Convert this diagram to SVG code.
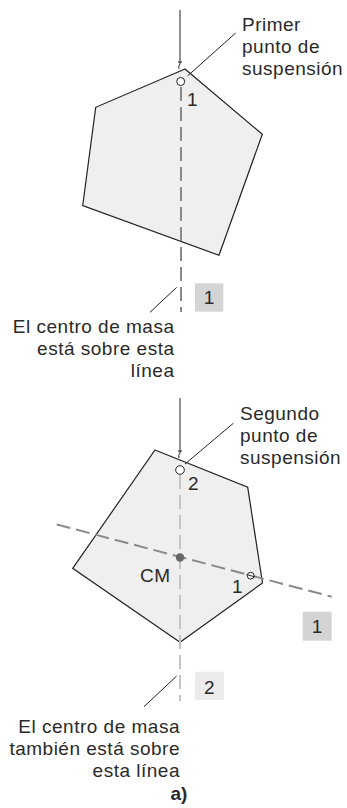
<svg xmlns="http://www.w3.org/2000/svg" width="347" height="808" viewBox="0 0 347 808">
<style>
.t{font-family:"Liberation Sans",Arial,sans-serif;font-size:19px;fill:#2a2a2a;letter-spacing:0.5px}
.r{text-anchor:end}
.c{text-anchor:middle}
.b{font-weight:bold;letter-spacing:0}
.poly{fill:#efefef;stroke:#222;stroke-width:1.2}
.str{stroke:#222;stroke-width:1;fill:none}
.lead{stroke:#222;stroke-width:1;fill:none}
.d1{stroke:#8a8a8a;stroke-width:2;stroke-dasharray:14 6;fill:none}
.d2{stroke:#c4c4c4;stroke-width:2;stroke-dasharray:14 6;fill:none}
.hole{fill:#fff;stroke:#222;stroke-width:1}
</style>
<rect width="347" height="808" fill="#fff"/>
<g id="body1">
<polygon class="poly" points="185,69 95.7,107.3 82.7,205.5 219,255.3 262.3,134.3"/>
</g>
<g id="body2">
<polygon class="poly" points="155,450 247.7,487.3 262.5,583 180,642.3 72.7,568.3"/>
</g>
<g id="connectors">
<line class="d1" x1="181" y1="87" x2="181" y2="312"/>
<line class="d2" x1="180" y1="475" x2="180" y2="701"/>
<line class="d1" x1="56.7" y1="524.5" x2="331.7" y2="596.7"/>
<path class="str" d="M180,10 V64 M178,62 H182 M180,64 q-2,2 -1,5"/>
<path class="str" d="M180,398 V453 M178,451 H182 M180,453 q-2,2 -1,5"/>
<line class="lead" x1="187.5" y1="76" x2="235.7" y2="33"/>
<line class="lead" x1="185" y1="464" x2="233.3" y2="423.3"/>
<line class="lead" x1="176.7" y1="287.3" x2="150" y2="312.3"/>
<line class="lead" x1="176.7" y1="676" x2="144" y2="706.7"/>
</g>
<g id="point1">
<circle class="hole" cx="180.7" cy="81.5" r="4"/>
<text class="t" x="187" y="106">1</text>
</g>
<g id="point2">
<circle class="hole" cx="180" cy="470" r="4.3"/>
<text class="t" x="188" y="490">2</text>
</g>
<g id="point1b">
<circle class="hole" cx="250.7" cy="575.7" r="3.4" fill="none"/>
<line x1="246.5" y1="574.6" x2="254.9" y2="576.8" stroke="#222" stroke-width="1"/>
<text class="t" x="232" y="593">1</text>
</g>
<g id="cm">
<circle cx="180" cy="557.5" r="4.2" fill="#666"/>
<text class="t" x="140" y="582">CM</text>
</g>
<g id="label-primer">
<text class="t" x="242" y="31">Primer</text>
<text class="t" x="242" y="53">punto de</text>
<text class="t" x="242" y="75">suspensión</text>
</g>
<g id="label-segundo">
<text class="t" x="240" y="420">Segundo</text>
<text class="t" x="240" y="442">punto de</text>
<text class="t" x="240" y="464">suspensión</text>
</g>
<g id="label-cm1">
<text class="t r" x="174.5" y="333">El centro de masa</text>
<text class="t r" x="174.5" y="355">está sobre esta</text>
<text class="t r" x="174.5" y="377">línea</text>
</g>
<g id="label-cm2">
<text class="t r" x="180" y="733">El centro de masa</text>
<text class="t r" x="180" y="755">también está sobre</text>
<text class="t r" x="180" y="777">esta línea</text>
</g>
<g id="box1-top">
<rect x="195" y="283.3" width="28.3" height="28.4" fill="#d4d4d4"/>
<text class="t c" x="209.2" y="304">1</text>
</g>
<g id="box1-bottom">
<rect x="302.7" y="611.7" width="29" height="29" fill="#d4d4d4"/>
<text class="t c" x="317.2" y="633">1</text>
</g>
<g id="box2">
<rect x="195" y="671.7" width="29" height="28.3" fill="#ececec"/>
<text class="t c" x="209.5" y="694">2</text>
</g>
<g id="caption">
<text class="t c b" x="179" y="800">a)</text>
</g>
</svg>
